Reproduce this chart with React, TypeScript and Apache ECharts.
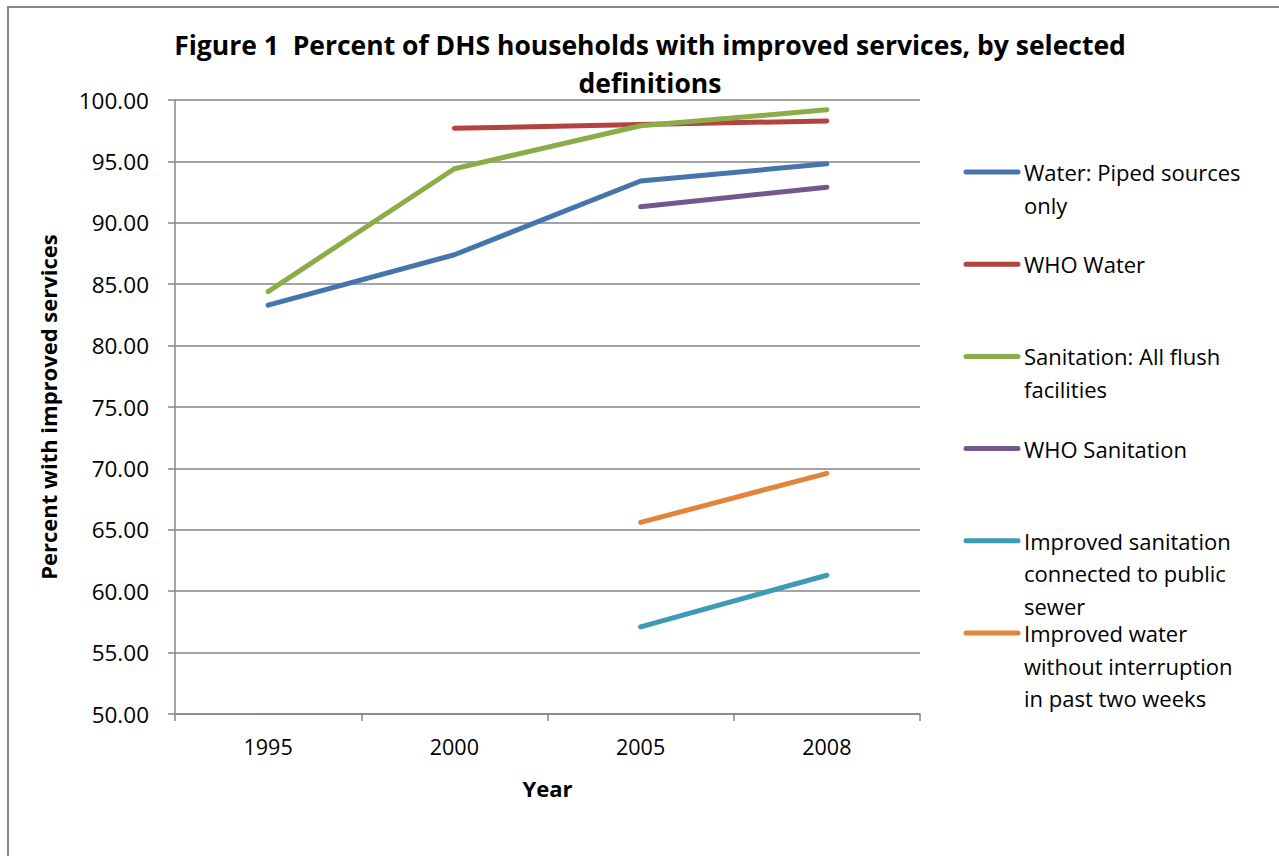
import React, { useEffect, useRef } from "react";
import * as echarts from "echarts";

const years = ["1995", "2000", "2005", "2008"];
const seriesNames = [
  "Water: Piped sources only",
  "WHO Water",
  "Sanitation: All flush facilities",
  "WHO Sanitation",
  "Improved sanitation connected to public sewer",
  "Improved water without interruption in past two weeks",
];
const legendLabels = [
  ["Water: Piped sources", "only"],
  ["WHO Water"],
  ["Sanitation: All flush", "facilities"],
  ["WHO Sanitation"],
  ["Improved sanitation", "connected to public", "sewer"],
  ["Improved water", "without interruption", "in past two weeks"],
];
const pipedWater = [83.3, 87.4, 93.4, 94.8];
const whoWater = [null, 97.7, 98.0, 98.3];
const flushSanitation = [84.4, 94.4, 97.9, 99.2];
const whoSanitation = [null, null, 91.3, 92.9];
const sewerSanitation = [null, null, 57.1, 61.3];
const uninterruptedWater = [null, null, 65.6, 69.6];
const seriesValues = [pipedWater, whoWater, flushSanitation, whoSanitation, sewerSanitation, uninterruptedWater];
const colors = ["#4675AE", "#B4433F", "#8BAD49", "#73588F", "#3F9AB6", "#E2843A"];
const yTicks = { min: 50, max: 100, interval: 5 };

const FONT = "'Open Sans', 'Noto Sans', sans-serif";

export default function App() {
  const ref = useRef<HTMLDivElement>(null);
  useEffect(() => {
    if (!ref.current) return;
    const chart = echarts.init(ref.current, null, { renderer: "svg" });
    const legendTop = 172;
    const legendStep = 92.2;
    const lineStep = 32.5;
    const legendGraphics: any[] = [];
    legendLabels.forEach((lines, i) => {
      const y = legendTop + i * legendStep;
      legendGraphics.push({
        type: "line",
        shape: { x1: 966, y1: y, x2: 1018, y2: y },
        style: { stroke: colors[i], lineWidth: 5, lineCap: "round" },
      });
      lines.forEach((line, j) => {
        legendGraphics.push({
          type: "text",
          x: 1024,
          y: y + j * lineStep,
          style: {
            text: line,
            font: `22px ${FONT}`,
            fill: "#000",
            lineHeight: 26,
            textVerticalAlign: "middle",
          },
        });
      });
    });
    chart.setOption({
      animation: false,
      textStyle: { fontFamily: FONT },
      title: {
        text: "Figure 1  Percent of DHS households with improved services, by selected\ndefinitions",
        left: 645,
        top: 21,
        textAlign: "center",
        textStyle: { fontSize: 26.5, fontWeight: "bold", color: "#000", lineHeight: 38, fontFamily: FONT },
      },
      grid: { left: 175, right: 359, top: 100, bottom: 142, containLabel: false },
      xAxis: {
        type: "category",
        data: years,
        boundaryGap: true,
        name: "Year",
        nameLocation: "middle",
        nameGap: 63,
        nameTextStyle: { fontSize: 22, fontWeight: "bold", color: "#000", fontFamily: FONT },
        axisLine: { lineStyle: { color: "#868686", width: 1.5 } },
        axisTick: { show: true, length: 7, lineStyle: { color: "#868686", width: 1.5 } },
        axisLabel: { fontSize: 21.5, color: "#000", margin: 21, fontFamily: FONT },
        splitLine: { show: false },
      },
      yAxis: {
        type: "value",
        min: yTicks.min,
        max: yTicks.max,
        interval: yTicks.interval,
        name: "Percent with improved services",
        nameLocation: "middle",
        nameGap: 116,
        nameRotate: 90,
        nameTextStyle: { fontSize: 22, fontWeight: "bold", color: "#000", fontFamily: FONT },
        axisLine: { show: true, lineStyle: { color: "#868686", width: 1.5 } },
        axisTick: { show: true, length: 7, lineStyle: { color: "#868686", width: 1.5 } },
        axisLabel: {
          fontSize: 22.5,
          color: "#000",
          margin: 26,
          fontFamily: FONT,
          formatter: (v: number) => v.toFixed(2),
        },
        splitLine: { show: true, lineStyle: { color: "#868686", width: 1.5 } },
      },
      series: seriesNames.map((name, i) => ({
        name,
        type: "line",
        data: seriesValues[i],
        symbol: "none",
        connectNulls: false,
        lineStyle: { color: colors[i], width: 5, cap: "round", join: "round" },
        itemStyle: { color: colors[i] },
      })),
      graphic: legendGraphics,
    });
    return () => chart.dispose();
  }, []);
  return (
    <div style={{ position: "fixed", left: 0, top: 0, width: 1279, height: 856, overflow: "hidden", background: "#fff" }}>
      <div
        style={{
          position: "absolute",
          left: 7,
          top: 6,
          width: 1400,
          height: 1000,
          border: "2px solid #868686",
          boxSizing: "border-box",
        }}
      />
      <div ref={ref} style={{ position: "absolute", left: 0, top: 0, width: 1279, height: 856 }} />
    </div>
  );
}
